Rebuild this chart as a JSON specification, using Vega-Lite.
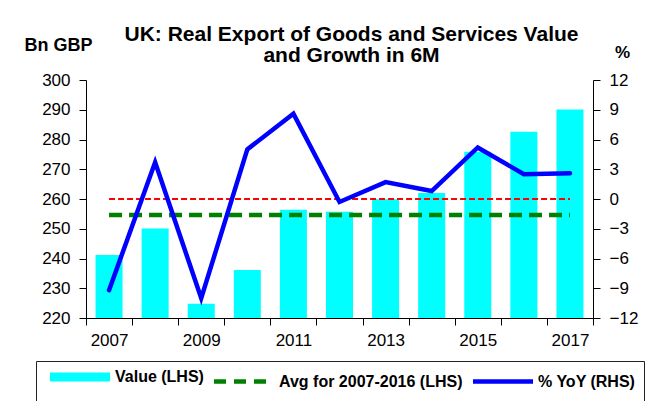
{
  "$schema": "https://vega.github.io/schema/vega-lite/v6.json",
  "width": 507,
  "height": 238,
  "autosize": {"type": "none"},
  "padding": {"left": 86, "top": 80, "right": 54, "bottom": 83},
  "background": "white",
  "title": {
    "text": ["UK: Real Export of Goods and Services Value", "and Growth in 6M"],
    "font": "Liberation Sans",
    "fontSize": 21,
    "fontWeight": "bold",
    "color": "black",
    "lineHeight": 21,
    "anchor": "middle",
    "frame": "group",
    "dx": 12,
    "dy": 34,
    "offset": 4
  },
  "data": {
    "values": [
      {"year": 2007, "value": 241.2, "yoy": -9.2, "avg": 254.6},
      {"year": 2008, "value": 250.1, "yoy": 3.7, "avg": 254.6},
      {"year": 2009, "value": 224.8, "yoy": -10.0, "avg": 254.6},
      {"year": 2010, "value": 236.1, "yoy": 5.0, "avg": 254.6},
      {"year": 2011, "value": 256.4, "yoy": 8.6, "avg": 254.6},
      {"year": 2012, "value": 255.7, "yoy": -0.3, "avg": 254.6},
      {"year": 2013, "value": 259.9, "yoy": 1.7, "avg": 254.6},
      {"year": 2014, "value": 262.0, "yoy": 0.8, "avg": 254.6},
      {"year": 2015, "value": 275.9, "yoy": 5.2, "avg": 254.6},
      {"year": 2016, "value": 282.6, "yoy": 2.5, "avg": 254.6},
      {"year": 2017, "value": 290.1, "yoy": 2.6, "avg": 254.6}
    ]
  },
  "encoding": {
    "x": {
      "field": "year",
      "type": "ordinal",
      "scale": {"paddingInner": 0, "paddingOuter": 0},
      "axis": {
        "title": null,
        "labelAngle": 0,
        "tickBand": "extent",
        "tickSize": 7,
        "labelPadding": 7,
        "labelFontSize": 17,
        "labelOverlap": false,
        "labelExpr": "datum.value % 2 == 1 ? datum.label : ''"
      }
    }
  },
  "layer": [
    {
      "layer": [
        {
          "mark": {"type": "bar", "width": {"band": 0.586}, "clip": true},
          "encoding": {
            "y": {
              "field": "value",
              "type": "quantitative",
              "title": "Bn GBP",
              "scale": {"domain": [220, 300], "zero": false, "nice": false},
              "axis": {
                "orient": "left",
                "values": [220, 230, 240, 250, 260, 270, 280, 290, 300],
                "tickCount": 9,
                "labelOverlap": false,
                "tickSize": 7,
                "labelPadding": 9,
                "labelFontSize": 17,
                "titleAngle": 0,
                "titleX": -28,
                "titleY": -35,
                "titleAlign": "center",
                "titleBaseline": "middle",
                "titleFontSize": 18,
                "titleFontWeight": "bold",
                "titleColor": "black"
              }
            },
            "color": {
              "datum": "Value (LHS)",
              "scale": {
                "domain": ["Value (LHS)", "Avg for 2007-2016 (LHS)", "% YoY (RHS)"],
                "range": ["#00ffff", "#008000", "#0000ff"]
              },
              "legend": {
                "title": null,
                "orient": "bottom",
                "offset": 13,
                "direction": "horizontal",
                "columns": 3,
                "symbolType": "M-6,0H6",
                "symbolSize": 100,
                "symbolOffset": 28,
                "symbolStrokeWidth": 4.5,
                "labelFont": "Liberation Sans",
                "labelFontSize": 16,
                "labelFontWeight": "bold",
                "labelColor": "black",
                "labelOffset": 27,
                "labelLimit": 400,
                "columnPadding": 1,
                "padding": 8,
                "strokeColor": "#222222",
                "fillColor": "white",
                "encode": {
                  "symbols": {
                    "update": {
                      "stroke": {"scale": "color", "field": "value"},
                      "fill": {"value": "transparent"},
                      "strokeWidth": {"signal": "datum.value === 'Value (LHS)' ? 9 : 4.5"},
                      "strokeDash": {"signal": "datum.value === 'Avg for 2007-2016 (LHS)' ? [12, 8] : [1, 0]"}
                    }
                  }
                }
              }
            }
          }
        },
        {
          "mark": {"type": "line", "strokeDash": [13, 7], "strokeWidth": 4.5},
          "encoding": {
            "y": {
              "field": "avg",
              "type": "quantitative",
              "title": "Bn GBP",
              "axis": {
                "orient": "left",
                "values": [220, 230, 240, 250, 260, 270, 280, 290, 300],
                "tickCount": 9,
                "labelOverlap": false,
                "tickSize": 7,
                "labelPadding": 9,
                "labelFontSize": 17,
                "titleAngle": 0,
                "titleX": -28,
                "titleY": -35,
                "titleAlign": "center",
                "titleBaseline": "middle",
                "titleFontSize": 18,
                "titleFontWeight": "bold",
                "titleColor": "black"
              }
            },
            "color": {"datum": "Avg for 2007-2016 (LHS)"}
          }
        }
      ]
    },
    {
      "layer": [
        {
          "mark": {"type": "line", "color": "#ff0000", "strokeDash": [6, 3], "strokeWidth": 2},
          "encoding": {
            "y": {
              "datum": 0,
              "type": "quantitative",
              "title": "%",
              "axis": {
                "orient": "right",
                "values": [-12, -9, -6, -3, 0, 3, 6, 9, 12],
                "tickCount": 9,
                "labelOverlap": false,
                "tickSize": 7,
                "labelPadding": 9,
                "labelFontSize": 17,
                "titleAngle": 0,
                "titleX": 29,
                "titleY": -28,
                "titleAlign": "center",
                "titleBaseline": "middle",
                "titleFontSize": 17,
                "titleFontWeight": "bold",
                "titleColor": "black"
              }
            }
          }
        },
        {
          "mark": {"type": "line", "strokeWidth": 4.5, "strokeCap": "round"},
          "encoding": {
            "y": {
              "field": "yoy",
              "type": "quantitative",
              "title": "%",
              "scale": {"domain": [-12, 12], "nice": false},
              "axis": {
                "orient": "right",
                "values": [-12, -9, -6, -3, 0, 3, 6, 9, 12],
                "tickCount": 9,
                "labelOverlap": false,
                "tickSize": 7,
                "labelPadding": 9,
                "labelFontSize": 17,
                "titleAngle": 0,
                "titleX": 29,
                "titleY": -28,
                "titleAlign": "center",
                "titleBaseline": "middle",
                "titleFontSize": 17,
                "titleFontWeight": "bold",
                "titleColor": "black"
              }
            },
            "color": {"datum": "% YoY (RHS)"}
          }
        }
      ]
    }
  ],
  "resolve": {"scale": {"y": "independent"}},
  "config": {
    "font": "Liberation Sans",
    "view": {"stroke": null},
    "legend": {"layout": {"bottom": {"anchor": "middle"}}},
    "axis": {
      "grid": false,
      "domainColor": "black",
      "tickColor": "black",
      "labelColor": "black",
      "labelFont": "Liberation Sans",
      "titleFont": "Liberation Sans",
      "domainWidth": 1,
      "tickWidth": 1
    }
  }
}
